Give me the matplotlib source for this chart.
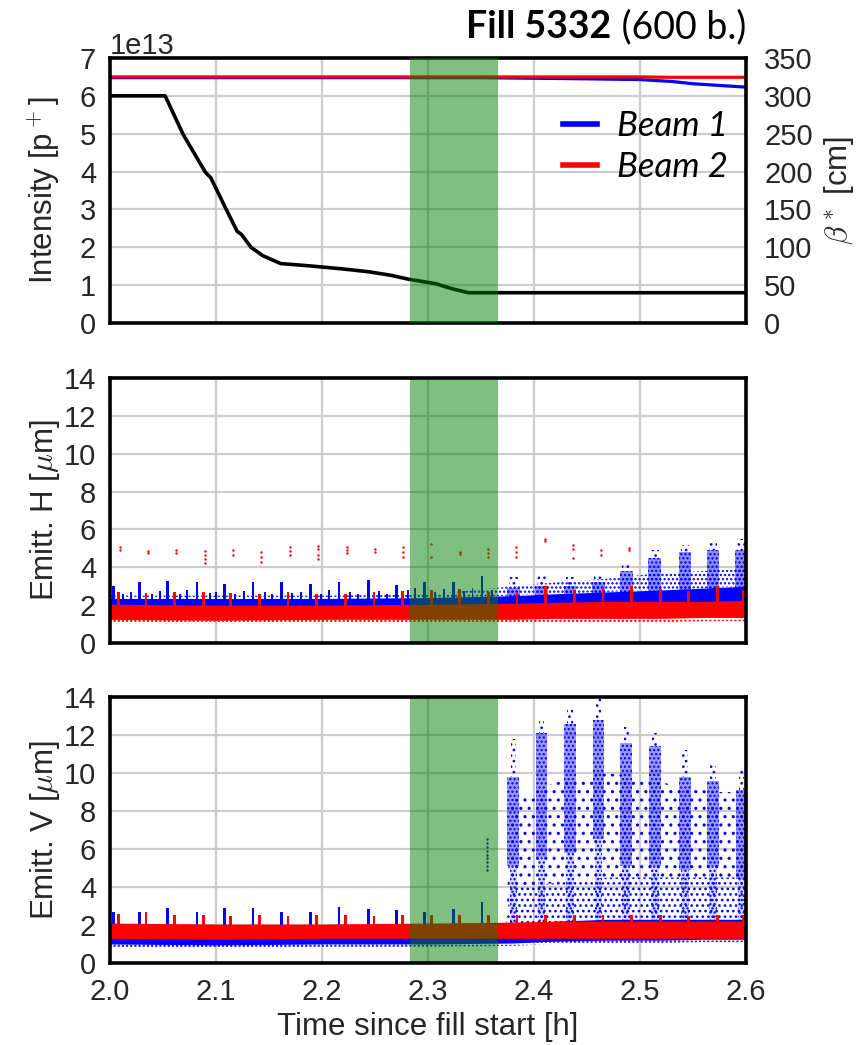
import numpy as np
import matplotlib
matplotlib.use('Agg')
import matplotlib.pyplot as plt
from matplotlib.lines import Line2D

plt.rcParams['font.family'] = ['Liberation Sans', 'DejaVu Sans']
plt.rcParams['mathtext.fontset'] = 'cm'
plt.rcParams['hatch.linewidth'] = 1.1

# ---------------- data ----------------
fill_name = 'Fill 5332'
fill_info = ' (600 b.)'
x_ticks = [2.0, 2.1, 2.2, 2.3, 2.4, 2.5, 2.6]
squeeze_start, squeeze_end = 2.283, 2.366

# intensity [1e13 p]
int_t = [2.0, 2.35, 2.45, 2.50, 2.53, 2.55, 2.6]
int_b1 = [6.48, 6.48, 6.45, 6.43, 6.38, 6.32, 6.23]
int_b2 = [6.50, 6.50, 6.50, 6.50, 6.49, 6.49, 6.49]

# beta* [cm]
beta_t = [2.0, 2.052, 2.064, 2.069, 2.090, 2.095, 2.110, 2.120, 2.124, 2.133,
          2.144, 2.161, 2.188, 2.219, 2.245, 2.265, 2.281, 2.307, 2.322, 2.338, 2.6]
beta_cm = [300, 300, 264, 249, 199, 192, 149, 121, 117, 100,
           89, 78.5, 75.5, 71.5, 67.5, 63, 58, 52, 45.5, 40, 40]

# emittance bands (envelopes) [um]
band_t = [2.0, 2.1, 2.2, 2.3, 2.38, 2.42, 2.47, 2.52, 2.56, 2.6]
H_b2_lo = [1.25, 1.20, 1.25, 1.25, 1.25, 1.30, 1.30, 1.30, 1.35, 1.35]
H_b2_fringe = [1.05, 1.00, 1.05, 1.05, 1.05, 1.10, 1.10, 1.10, 1.15, 1.15]
H_b2_hi = [2.05, 2.00, 2.00, 2.05, 2.10, 2.15, 2.20, 2.20, 2.20, 2.25]
H_b1_lo = [1.70, 1.70, 1.70, 1.70, 1.80, 1.80, 1.90, 1.90, 1.90, 1.90]
H_b1_hi = [2.35, 2.35, 2.35, 2.40, 2.50, 2.60, 2.70, 2.80, 2.90, 3.00]
H_b1_sparse = [2.50, 2.50, 2.50, 2.55, 3.00, 3.20, 3.40, 3.70, 3.80, 3.90]

V_b2_lo = [1.30, 1.25, 1.30, 1.30, 1.30, 1.30, 1.30, 1.30, 1.30, 1.30]
V_b2_hi = [2.10, 2.05, 2.05, 2.10, 2.15, 2.20, 2.20, 2.20, 2.20, 2.20]
V_b1_lo = [1.00, 0.95, 1.00, 1.00, 1.05, 1.15, 1.20, 1.20, 1.25, 1.25]
V_b1_fringe = [0.85, 0.80, 0.85, 0.85, 0.90, 1.00, 1.05, 1.05, 1.10, 1.10]
V_b1_hi = [1.90, 1.90, 1.90, 1.90, 2.00, 2.20, 2.30, 2.30, 2.30, 2.30]

V_sparse_t = [2.374, 2.378, 2.42, 2.47, 2.52, 2.57, 2.6]
V_sparse_low_top = [2.2, 4.0, 4.2, 4.5, 4.5, 4.5, 4.5]
V_sparse_top = [2.2, 8.5, 9.5, 10.0, 9.5, 9.0, 9.0]

# periodic emittance spikes
spk_b1_t = [2.003, 2.028, 2.054, 2.082, 2.108, 2.135, 2.162, 2.189, 2.216, 2.244,
            2.270, 2.297, 2.324, 2.351]
spk_b1_H = [3.0, 3.2, 3.3, 3.2, 3.1, 3.2, 3.2, 3.1, 3.24, 3.33,
            3.07, 3.24, 3.2, 3.52]
spk_b1_V = [2.7, 2.7, 2.9, 2.7, 2.9, 2.9, 2.7, 2.7, 2.95, 2.85,
            2.8, 2.7, 2.85, 3.2]
# smaller secondary bumps on the beam 1 band
bump_b1_t = [2.012, 2.020, 2.040, 2.047, 2.066, 2.073, 2.094, 2.100, 2.118, 2.126,
             2.146, 2.153, 2.172, 2.180, 2.199, 2.207, 2.226, 2.234, 2.254, 2.261,
             2.281, 2.288, 2.307, 2.315, 2.334, 2.342, 2.360]
bump_b1_H = [2.6, 2.7, 2.6, 2.75, 2.6, 2.8, 2.65, 2.7, 2.6, 2.75,
             2.7, 2.6, 2.65, 2.7, 2.6, 2.8, 2.7, 2.6, 2.75, 2.6,
             2.8, 2.9, 2.7, 2.85, 2.75, 2.9, 2.8]
spk_b2_t = [2.008, 2.034, 2.061, 2.088, 2.114, 2.141, 2.168, 2.195, 2.222, 2.249,
            2.276, 2.303, 2.330, 2.357, 2.384, 2.411, 2.438, 2.465, 2.492, 2.519,
            2.546, 2.573, 2.598]
spk_b2_H = [2.7, 2.65, 2.7, 2.7, 2.65, 2.6, 2.7, 2.6, 2.6, 2.7,
            2.75, 2.8, 2.85, 2.7, 2.7, 3.0, 2.8, 2.9, 3.0, 2.85,
            2.75, 3.0, 2.8]
spk_b2_V = [2.6, 2.7, 2.5, 2.5, 2.45, 2.5, 2.45, 2.5, 2.5, 2.45,
            2.5, 2.5, 2.55, 2.5, 2.55, 2.5, 2.55, 2.5, 2.5, 2.5,
            2.45, 2.5, 2.5]

# beam 1 blow-up columns after the squeeze
col_t = [2.3805, 2.407, 2.434, 2.4607, 2.487, 2.514, 2.5425, 2.569, 2.596]
col_H_top = [3.5, 3.6, 3.5, 3.6, 4.1, 4.9, 5.2, 5.35, 5.5]
col_H_hi = [2.9, 3.0, 3.0, 3.2, 3.8, 4.5, 4.8, 4.9, 4.9]
col_V_top = [11.8, 12.8, 13.4, 13.9, 12.4, 12.1, 11.2, 10.4, 10.2]
col_V_hi = [9.8, 12.1, 12.6, 12.8, 11.6, 11.4, 9.8, 9.6, 9.1]
col_V_lo = [5.1, 5.6, 5.8, 6.5, 5.1, 5.1, 4.9, 5.1, 4.4]

# isolated beam 2 H outliers
out_H_t = [2.0098, 2.0098, 2.036, 2.036, 2.0626, 2.0626,
           2.0895, 2.0895, 2.0895, 2.0895, 2.1164, 2.1164,
           2.1428, 2.1428, 2.1428, 2.1697, 2.1697, 2.1697,
           2.1966, 2.1966, 2.1966, 2.1966, 2.2235, 2.2235, 2.2235,
           2.2499, 2.2499, 2.2768, 2.2768, 2.2768, 2.3032, 2.3032,
           2.330, 2.330, 2.3564, 2.3564, 2.3564, 2.3833, 2.3833, 2.3833,
           2.4102, 2.4102, 2.437, 2.437, 2.437, 2.4635, 2.4635, 2.490, 2.490]
out_H_val = [5.05, 4.9, 4.86, 4.73, 4.9, 4.75,
             4.88, 4.65, 4.42, 4.24, 4.9, 4.65,
             4.79, 4.56, 4.29, 5.05, 4.88, 4.65,
             5.14, 4.95, 4.65, 4.43, 5.09, 4.9, 4.73,
             4.98, 4.79, 5.05, 4.79, 4.52, 5.23, 4.56,
             4.79, 4.7, 4.95, 4.73, 4.56, 5.09, 4.82, 4.56,
             5.48, 5.37, 5.18, 4.96, 4.47, 4.9, 4.65, 5.0, 4.9]

# isolated beam 1 V outliers inside the squeeze
out_V_t = [2.356] * 9
out_V_val = [4.9, 5.1, 5.3, 5.5, 5.7, 5.9, 6.1, 6.3, 6.55]

# ---------------- style ----------------
B1 = '#0000ff'
B2 = '#ff0000'
GRID = '#cccccc'
TXT = '#262626'
TICK_FS = 21
LAB_FS = 22.5

fig = plt.figure(figsize=(8.63, 10.45), dpi=100)
L, W = 0.1275, 0.7369
ax1 = fig.add_axes([L, 0.6909, W, 0.2536])
axH = fig.add_axes([L, 0.3847, W, 0.2536])
axV = fig.add_axes([L, 0.0785, W, 0.2545])


def style(ax):
    ax.set_xlim(2.0, 2.6)
    ax.set_xticks(x_ticks)
    ax.grid(True, color=GRID, linewidth=1.6)
    ax.set_axisbelow(True)
    for s in ax.spines.values():
        s.set_color('black')
        s.set_linewidth(2.6)
        s.set_zorder(10)
    ax.tick_params(length=0, labelsize=TICK_FS, colors=TXT)
    ax.tick_params(axis='y', pad=10)
    ax.tick_params(axis='x', pad=11)


for ax in (ax1, axH, axV):
    style(ax)
ax1.tick_params(axis='x', labelbottom=False)
axH.tick_params(axis='x', labelbottom=False)

# ---- top panel ----
ax1.plot(int_t, np.array(int_b1) * 1e13, color=B1, lw=2.3, zorder=3)
ax1.plot(int_t, np.array(int_b2) * 1e13, color=B2, lw=2.3, zorder=3)
ax1.set_ylim(0, 7e13)
ax1.set_yticks(np.arange(0, 8) * 1e13)
ax1.yaxis.get_offset_text().set_fontsize(TICK_FS)
ax1.yaxis.get_offset_text().set_color(TXT)
ax1.set_ylabel('Intensity [p$^+$]', fontsize=LAB_FS, color=TXT)
ax1.yaxis.set_label_coords(-0.075, 0.5)

ax2 = ax1.twinx()
ax2.set_ylim(0, 350)
ax2.set_yticks(np.arange(0, 351, 50))
ax2.grid(False)
for s in ax2.spines.values():
    s.set_visible(False)
ax2.tick_params(length=0, labelsize=TICK_FS, colors=TXT, pad=13)
ax2.plot(beta_t, beta_cm, color='black', lw=2.6, zorder=3)
ax2.axvspan(squeeze_start, squeeze_end, color='g', alpha=0.5, lw=0, zorder=5)
ax2.set_ylabel(r'$\beta^*$ [cm]', fontsize=LAB_FS, color=TXT)
ax2.yaxis.set_label_coords(1.12, 0.5)

handles = [Line2D([], [], color=B1, lw=4), Line2D([], [], color=B2, lw=4)]
ax2.legend(handles, ['Beam 1', 'Beam 2'], loc='upper right',
           bbox_to_anchor=(1.02, 0.92), frameon=False,
           prop={'family': 'Lato', 'style': 'italic', 'size': 25},
           handlelength=1.0, handletextpad=0.55, labelspacing=0.25)


# ---- emittance panels ----
def band(ax, lo, hi, color, z):
    ax.fill_between(band_t, lo, hi, color=color, lw=0, zorder=z)


def fringe(ax, lo, hi, color, z):
    ax.fill_between(band_t, lo, hi, facecolor='none', edgecolor=color,
                    hatch='....', lw=0, zorder=z)


def spikes(ax, t, top, base, color, z, width=0.0026):
    top = np.asarray(top)
    ax.bar(t, top - base, bottom=base, width=width, color=color, lw=0, zorder=z)


def dots(ax, x, bottom, top, width, hatch, color, z, shade=0.0):
    face = (0, 0, 1, shade) if shade > 0 else 'none'
    ax.bar(x, np.asarray(top) - np.asarray(bottom), bottom=bottom, width=width,
           facecolor=face, edgecolor=color, hatch=hatch, lw=0, zorder=z)


# H
band(axH, H_b1_lo, H_b1_hi, B1, 2)
fringe(axH, H_b1_hi, H_b1_sparse, B1, 2)
spikes(axH, spk_b1_t, spk_b1_H, 2.0, B1, 2)
spikes(axH, bump_b1_t, bump_b1_H, 2.0, B1, 2, width=0.0018)
dots(axH, col_t, 2.2, col_H_hi, 0.012, '....', B1, 2, shade=0.45)
dots(axH, col_t, col_H_hi, col_H_top, 0.008, '...', B1, 2)
band(axH, H_b2_lo, H_b2_hi, B2, 3)
fringe(axH, H_b2_fringe, H_b2_lo, B2, 3)
spikes(axH, spk_b2_t, spk_b2_H, 1.8, B2, 3)
axH.scatter(out_H_t, out_H_val, s=3, color=B2, marker='o', lw=0, zorder=3)
axH.axvspan(squeeze_start, squeeze_end, color='g', alpha=0.5, lw=0, zorder=5)
axH.set_ylim(0, 14)
axH.set_yticks(np.arange(0, 15, 2))
axH.set_ylabel(r'Emitt. H [$\mu$m]', fontsize=LAB_FS, color=TXT)
axH.yaxis.set_label_coords(-0.075, 0.5)

# V
band(axV, V_b1_lo, V_b1_hi, B1, 2)
fringe(axV, V_b1_fringe, V_b1_lo, B1, 2)
spikes(axV, spk_b1_t, spk_b1_V, 1.5, B1, 2)
axV.fill_between(V_sparse_t, 2.0, V_sparse_low_top, facecolor='none', edgecolor=B1,
                 hatch='...', lw=0, zorder=2)
axV.fill_between(V_sparse_t, V_sparse_low_top, V_sparse_top, facecolor='none',
                 edgecolor=B1, hatch='..', lw=0, zorder=2)
dots(axV, col_t, col_V_lo, col_V_hi, 0.011, '....', B1, 2, shade=0.4)
dots(axV, col_t, col_V_hi, col_V_top, 0.005, '...', B1, 2)
dots(axV, col_t, 2.0, col_V_lo, 0.007, '....', B1, 2, shade=0.15)
axV.scatter(out_V_t, out_V_val, s=3, color=B1, marker='o', lw=0, zorder=2)
band(axV, V_b2_lo, V_b2_hi, B2, 3)
spikes(axV, spk_b2_t, spk_b2_V, 1.8, B2, 3)
axV.axvspan(squeeze_start, squeeze_end, color='g', alpha=0.5, lw=0, zorder=5)
axV.set_ylim(0, 14)
axV.set_yticks(np.arange(0, 15, 2))
axV.set_ylabel(r'Emitt. V [$\mu$m]', fontsize=LAB_FS, color=TXT)
axV.yaxis.set_label_coords(-0.075, 0.5)
axV.set_xlabel('Time since fill start [h]', fontsize=LAB_FS, color=TXT)
axV.set_xticklabels([f'{v:.1f}' for v in x_ticks])

# ---- title ----
renderer = fig.canvas.get_renderer()
t_info = fig.text(0.8644, 0.9636, fill_info, ha='right', va='baseline',
                  fontsize=27, family='Lato', color='black')
bb = t_info.get_window_extent(renderer)
x_left = fig.transFigure.inverted().transform((bb.x0, bb.y0))[0]
fig.text(x_left, 0.9636, fill_name, ha='right', va='baseline',
         fontsize=27, family='Lato', weight='bold', color='black')

fig.savefig('out.png', dpi=100)
